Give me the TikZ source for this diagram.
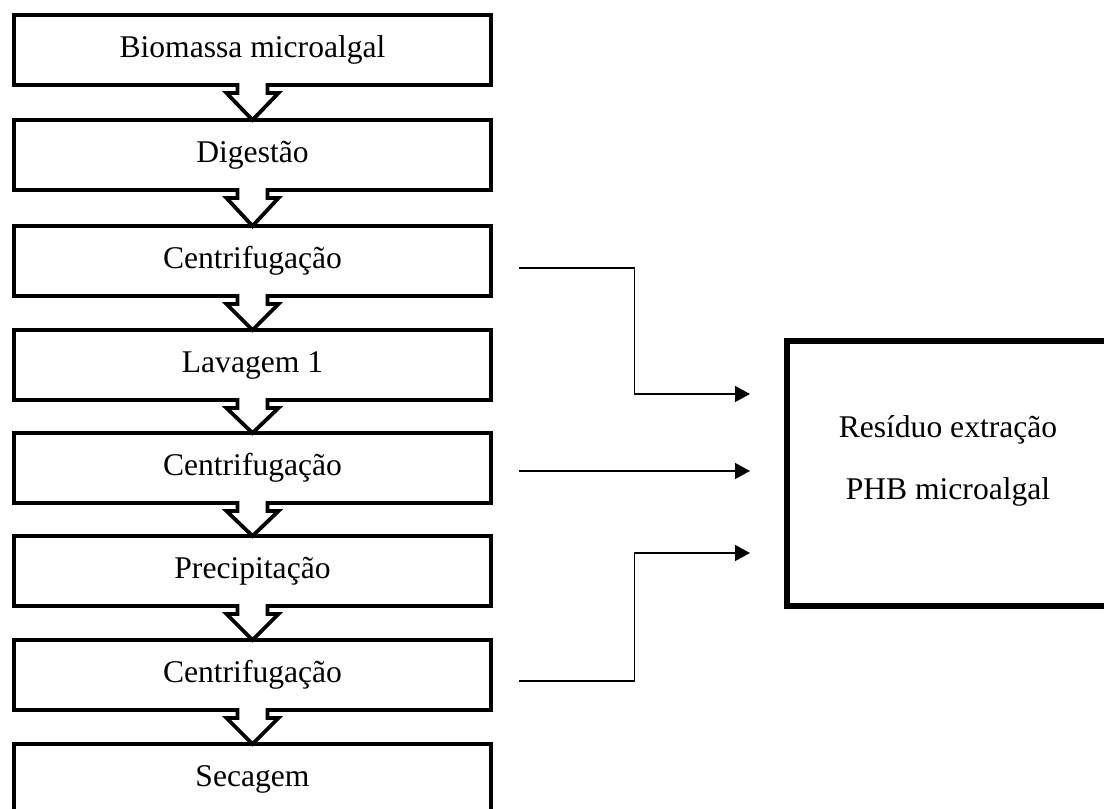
\documentclass[tikz,border=0pt]{standalone}
\usepackage{fontspec}
\setmainfont{Liberation Serif}
\usepackage{tikz}
\usetikzlibrary{arrows.meta,calc}

\tikzset{
  stage/.style={draw, line width=2pt, outer sep=0pt, minimum width=238.5pt, minimum height=35pt, inner sep=0pt, font=\fontsize{15.8}{19}\selectfont},
  resbox/.style={draw, line width=2.6pt, outer sep=0pt, minimum width=161pt, minimum height=132.5pt},
  hollow/.style={draw, fill=white, line width=1.9pt, line join=miter},
  link/.style={line width=0.75pt, -{Triangle[length=7.5pt,width=8pt]}}
}

\begin{document}
\begin{tikzpicture}[x=0.5pt, y=-0.5pt]
\clip (0,0) rectangle (1104,809);
% etapas
\node[stage] (bio) at (252.5,50) {Biomassa microalgal};
\node[stage] (dig) at (252.5,155) {Digestão};
\node[stage] (cen1) at (252.5,261) {Centrifugação};
\node[stage] (lav) at (252.5,365) {Lavagem 1};
\node[stage] (cen2) at (252.5,468) {Centrifugação};
\node[stage] (pre) at (252.5,571) {Precipitação};
\node[stage] (cen3) at (252.5,675) {Centrifugação};
\node[stage] (sec) at (252.5,779) {Secagem};
% setas ocas
\draw[hollow] ($(bio.south)+(-15,-2)$) -- ++(0,10) -- ++(-11,0) -- (dig.north) -- ($(bio.south)+(26,8)$) -- ++(-11,0) -- ++(0,-10);
\draw[hollow] ($(dig.south)+(-15,-2)$) -- ++(0,10) -- ++(-11,0) -- (cen1.north) -- ($(dig.south)+(26,8)$) -- ++(-11,0) -- ++(0,-10);
\draw[hollow] ($(cen1.south)+(-15,-2)$) -- ++(0,10) -- ++(-11,0) -- (lav.north) -- ($(cen1.south)+(26,8)$) -- ++(-11,0) -- ++(0,-10);
\draw[hollow] ($(lav.south)+(-15,-2)$) -- ++(0,10) -- ++(-11,0) -- (cen2.north) -- ($(lav.south)+(26,8)$) -- ++(-11,0) -- ++(0,-10);
\draw[hollow] ($(cen2.south)+(-15,-2)$) -- ++(0,10) -- ++(-11,0) -- (pre.north) -- ($(cen2.south)+(26,8)$) -- ++(-11,0) -- ++(0,-10);
\draw[hollow] ($(pre.south)+(-15,-2)$) -- ++(0,10) -- ++(-11,0) -- (cen3.north) -- ($(pre.south)+(26,8)$) -- ++(-11,0) -- ++(0,-10);
\draw[hollow] ($(cen3.south)+(-15,-2)$) -- ++(0,10) -- ++(-11,0) -- (sec.north) -- ($(cen3.south)+(26,8)$) -- ++(-11,0) -- ++(0,-10);
% residuo
\node[resbox] (res) at (948,473.5) {};
\node[align=center, font=\fontsize{15.8}{31}\selectfont] (restxt) at (948,461) {Resíduo extração\\PHB microalgal};
\coordinate (s1) at (519,268);
\coordinate (t1) at (750,394);
\coordinate (s2) at (519,471);
\coordinate (t2) at (750,471);
\coordinate (s3) at (519,681);
\coordinate (t3) at (750,553);
\draw[link] (s1) -| ($(s1)!.5!(t1)$) |- (t1);
\draw[link] (s2) -- (t2);
\draw[link] (s3) -| ($(s3)!.5!(t3)$) |- (t3);
\end{tikzpicture}
\end{document}
